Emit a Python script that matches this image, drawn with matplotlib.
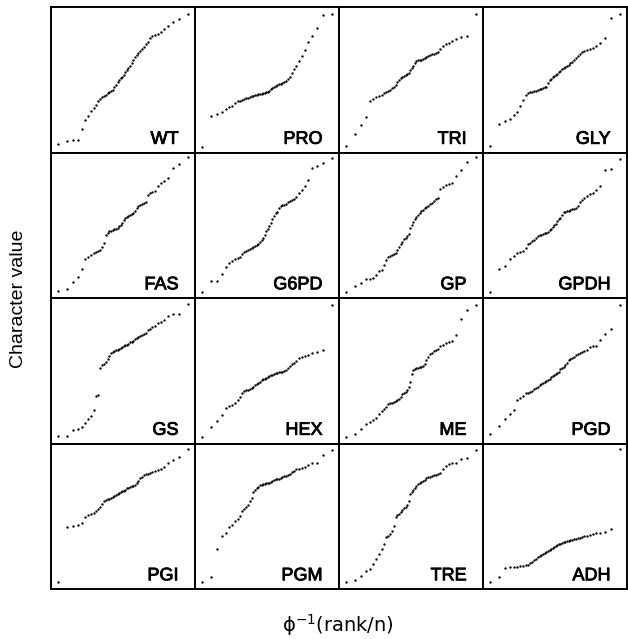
import matplotlib
matplotlib.use("Agg")
import matplotlib.pyplot as plt
import matplotlib.patheffects as pe
from statistics import NormalDist

plt.rcParams['font.family'] = ['Liberation Sans', 'DejaVu Sans']
plt.rcParams['mathtext.fontset'] = 'custom'
plt.rcParams['mathtext.rm'] = 'Liberation Sans'
plt.rcParams['mathtext.default'] = 'regular'

# Panel names (row-major) and sorted character values (panel-relative units, 0-100)
panel_names = ["WT", "PRO", "TRI", "GLY",
               "FAS", "G6PD", "GP", "GPDH",
               "GS", "HEX", "ME", "PGD",
               "PGI", "PGM", "TRE", "ADH"]

WT = [5.6, 7.9, 8.6, 8.6, 16.5, 22.1, 24.9, 28.4, 30.7, 32.6, 35.3, 37.0, 37.9, 38.8, 39.8,
      40.7, 41.4, 42.1, 43.0, 44.7, 46.5, 48.4, 49.8, 50.9, 52.1, 53.5, 55.1, 56.7, 57.9, 59.5,
      61.4, 63.3, 65.6, 67.2, 68.4, 69.8, 71.2, 72.6, 74.4, 76.0, 78.4, 80.0, 80.9, 81.6, 82.6,
      84.7, 87.0, 89.8, 91.6, 95.3]
PRO = [3.7, 25.3, 26.7, 28.1, 30.0, 31.2, 32.3, 34.0, 35.1, 35.6, 36.0, 36.5, 37.2, 37.7, 38.1,
       38.6, 39.1, 39.3, 39.8, 40.0, 40.2, 40.5, 40.7, 40.9, 41.4, 41.9, 42.6, 43.5, 44.4, 45.1,
       45.8, 46.5, 47.0, 47.4, 47.9, 48.4, 49.1, 50.2, 52.1, 54.4, 57.4, 59.8, 62.6, 66.0, 70.2,
       76.0, 80.0, 85.3, 94.2, 94.9]
TRI = [4.2, 12.8, 18.6, 24.4, 35.6, 37.0, 37.9, 39.1, 39.8, 40.7, 41.6, 42.3, 43.3, 44.4, 45.3,
       46.7, 48.6, 50.0, 51.2, 52.1, 52.8, 53.3, 53.7, 54.7, 56.5, 58.1, 59.3, 61.2, 62.6, 63.3,
       63.5, 63.7, 64.4, 65.1, 65.8, 66.3, 67.0, 67.4, 67.9, 68.4, 69.3, 70.9, 73.3, 74.9, 75.6,
       76.5, 77.9, 79.1, 79.8, 95.3]
GLY = [4.2, 19.3, 21.4, 23.3, 25.6, 27.9, 31.9, 36.0, 39.5, 40.7, 41.4, 41.9, 42.3, 42.6, 43.0,
       43.5, 44.0, 44.4, 44.7, 45.1, 47.7, 49.8, 50.7, 51.6, 52.6, 53.3, 54.2, 55.1, 56.0, 57.2,
       58.1, 58.8, 59.5, 60.5, 61.2, 61.9, 63.3, 64.9, 66.3, 67.7, 69.1, 69.8, 70.5, 71.4, 72.1,
       73.3, 75.1, 78.4, 92.3, 95.3]
FAS = [4.7, 6.3, 10.9, 14.4, 20.2, 26.5, 28.1, 29.5, 30.9, 31.9, 32.3, 33.0, 34.9, 37.7, 43.5,
       44.9, 45.8, 46.3, 46.7, 47.2, 47.7, 48.4, 49.3, 50.5, 51.9, 53.3, 54.7, 55.6, 56.3, 57.0,
       57.7, 58.6, 59.8, 61.6, 63.0, 64.0, 64.7, 65.1, 65.8, 70.9, 72.1, 72.6, 73.3, 76.7, 79.1,
       80.7, 82.6, 89.5, 92.3, 97.2]
G6PD = [4.4, 11.4, 11.9, 16.7, 21.4, 24.4, 25.6, 26.7, 27.4, 28.1, 30.2, 31.9, 32.3, 32.8, 33.5,
        34.4, 35.1, 36.0, 36.7, 37.4, 38.4, 40.0, 41.4, 43.0, 45.8, 47.7, 49.5, 51.9, 54.2, 56.5,
        58.4, 59.3, 61.6, 63.3, 63.7, 64.2, 64.9, 65.8, 66.7, 67.4, 68.4, 69.5, 72.1, 74.4, 76.7,
        81.4, 89.1, 90.7, 93.0, 96.0]
GP = [4.0, 8.6, 10.5, 12.8, 13.3, 13.7, 16.0, 18.4, 19.1, 22.6, 26.0, 27.9, 28.8, 29.5, 30.2,
      31.2, 33.0, 35.3, 37.0, 38.8, 40.5, 41.6, 42.3, 44.0, 48.1, 50.5, 52.3, 54.0, 55.6, 57.4,
      58.6, 59.8, 60.7, 61.6, 62.6, 63.5, 64.4, 65.6, 66.7, 67.9, 68.6, 74.9, 76.5, 77.4, 78.4,
      79.3, 83.7, 87.7, 93.5, 97.0]
GPDH = [4.0, 19.8, 21.9, 26.7, 29.1, 30.7, 31.9, 32.3, 34.7, 37.0, 37.9, 39.1, 40.2, 41.6, 42.6,
        43.0, 43.5, 44.0, 44.4, 44.9, 45.6, 46.5, 47.4, 48.8, 50.0, 50.9, 52.8, 54.2, 55.1, 57.4,
        58.8, 59.3, 59.8, 60.0, 60.5, 60.9, 61.4, 62.1, 63.3, 66.0, 67.2, 68.6, 69.8, 71.4, 72.3,
        74.2, 77.2, 88.1, 88.8, 95.8]
GS = [5.3, 5.3, 9.2, 10.3, 11.5, 13.8, 17.0, 18.9, 23.0, 32.6, 33.6, 52.2, 53.8, 54.7, 56.3,
      58.4, 60.2, 62.1, 63.0, 63.7, 64.1, 64.6, 65.1, 65.5, 66.2, 66.9, 67.6, 68.0, 68.7, 69.7,
      70.1, 70.8, 71.7, 72.4, 73.1, 74.0, 74.9, 75.6, 76.3, 77.7, 78.6, 79.8, 80.9, 82.5, 83.7,
      85.1, 87.4, 89.2, 89.2, 96.1]
HEX = [4.6, 11.7, 15.6, 19.5, 24.1, 25.9, 26.7, 27.6, 29.9, 32.2, 35.0, 36.1, 36.6, 37.0, 37.7,
       38.4, 39.1, 40.0, 40.9, 41.8, 42.5, 43.4, 44.1, 44.6, 45.3, 45.7, 46.2, 46.9, 47.4, 47.8,
       48.3, 48.7, 49.0, 49.2, 49.4, 50.1, 50.8, 51.9, 53.3, 54.7, 55.6, 57.0, 58.6, 59.8, 60.5,
       61.1, 62.1, 63.0, 64.4, 95.4]
ME = [4.6, 6.4, 9.7, 13.1, 14.5, 16.1, 17.5, 20.2, 22.3, 23.4, 25.3, 26.9, 27.6, 28.0, 28.7,
      29.4, 29.9, 30.8, 32.2, 34.0, 35.0, 35.4, 36.8, 39.1, 42.5, 47.8, 50.6, 51.5, 52.0, 52.2,
      52.4, 52.6, 53.3, 54.7, 57.5, 59.8, 61.6, 62.5, 63.4, 64.4, 65.3, 66.7, 67.8, 69.0, 69.9,
      70.6, 74.7, 85.5, 91.5, 95.4]
PGD = [6.4, 12.2, 17.0, 20.0, 23.0, 29.9, 31.3, 32.6, 34.5, 34.9, 35.4, 36.3, 37.2, 38.2, 39.1,
       40.0, 40.9, 41.6, 42.3, 43.0, 43.7, 44.4, 45.5, 46.4, 47.1, 47.8, 48.7, 49.4, 51.0, 51.9,
       52.4, 54.0, 55.6, 57.5, 58.4, 58.6, 59.8, 60.7, 61.4, 62.1, 63.0, 63.4, 64.4, 66.2, 66.7,
       66.9, 71.3, 75.4, 78.9, 95.4]
PGI = [4.6, 42.3, 43.0, 43.7, 45.1, 49.2, 50.8, 51.5, 52.4, 53.8, 55.1, 56.5, 58.4, 60.2, 61.1,
       61.6, 62.0, 62.5, 63.2, 63.8, 64.5, 65.2, 65.9, 66.6, 67.3, 67.7, 68.4, 69.1, 69.6, 70.0,
       70.5, 70.9, 71.6, 72.8, 74.4, 76.2, 77.3, 78.3, 78.9, 79.4, 79.9, 80.3, 80.8, 81.5, 82.2,
       84.0, 86.3, 88.6, 90.4, 96.1]
PGM = [4.6, 8.0, 27.5, 36.6, 38.4, 42.3, 44.2, 46.5, 48.1, 50.3, 53.8, 54.9, 56.5, 57.9, 60.6,
       62.9, 66.4, 68.0, 69.1, 70.3, 71.2, 71.6, 72.1, 72.5, 72.8, 73.0, 73.2, 73.7, 74.1, 74.8,
       75.3, 75.7, 75.9, 76.4, 77.1, 77.5, 78.0, 78.7, 79.4, 80.3, 81.2, 82.2, 82.8, 83.5, 84.2,
       85.4, 86.3, 86.7, 92.2, 95.7]
TRE = [4.6, 6.4, 9.2, 12.1, 13.5, 17.2, 20.6, 24.0, 27.5, 30.9, 35.5, 36.6, 37.8, 40.0, 43.5,
       49.2, 50.8, 51.9, 52.9, 54.2, 55.6, 56.5, 57.9, 60.6, 65.2, 67.0, 68.2, 69.3, 70.5, 72.1,
       73.0, 73.5, 74.1, 74.8, 76.0, 76.7, 77.3, 77.8, 78.5, 78.7, 78.9, 79.9, 82.2, 84.7, 85.8,
       86.7, 86.9, 89.5, 90.0, 95.7]
ADH = [4.6, 8.0, 14.6, 14.9, 15.1, 15.3, 15.8, 16.0, 16.2, 16.7, 17.6, 18.8, 19.9, 20.8, 21.7,
       22.4, 23.3, 24.0, 24.7, 25.4, 26.3, 27.0, 27.7, 28.4, 29.1, 29.5, 30.2, 30.9, 31.1, 31.6,
       32.0, 32.3, 32.7, 32.9, 33.4, 33.9, 34.1, 34.3, 34.8, 35.2, 35.7, 36.2, 36.6, 37.3, 37.8,
       38.2, 38.4, 38.9, 41.4, 96.5]

panel_values = [WT, PRO, TRI, GLY, FAS, G6PD, GP, GPDH,
                GS, HEX, ME, PGD, PGI, PGM, TRE, ADH]

fig, axes = plt.subplots(4, 4, figsize=(6.28, 6.39), dpi=100)
fig.subplots_adjust(left=0.0812, right=0.9984, top=0.989, bottom=0.0782,
                    wspace=0, hspace=0)

nd = NormalDist()
thick = [pe.withStroke(linewidth=0.6, foreground='black')]
for ax, name, vals in zip(axes.flat, panel_names, panel_values):
    n = len(vals)
    xs = [nd.inv_cdf(r / (n + 1)) for r in range(1, n + 1)]
    ax.plot(xs, sorted(vals), 'o', ms=1.7, color='black', mec='none')
    ax.set_xlim(-2.27, 2.27)
    ax.set_ylim(0, 100)
    ax.set_xticks([])
    ax.set_yticks([])
    for sp in ax.spines.values():
        sp.set_linewidth(1.4)
        sp.set_color('black')
    ax.text(0.885, 0.06, name, transform=ax.transAxes, ha='right', va='baseline',
            fontsize=13, color='black', path_effects=thick)

fig.text(0.029, 0.533, 'Character value', rotation=90, ha='center', va='center',
         fontsize=14, color='black')
fig.text(0.538, 0.022, r'ϕ$^{-1}$(rank/n)', ha='center', va='center',
         fontsize=14, color='black', family=['DejaVu Sans'])

fig.savefig('out.png', dpi=100, facecolor='white')
